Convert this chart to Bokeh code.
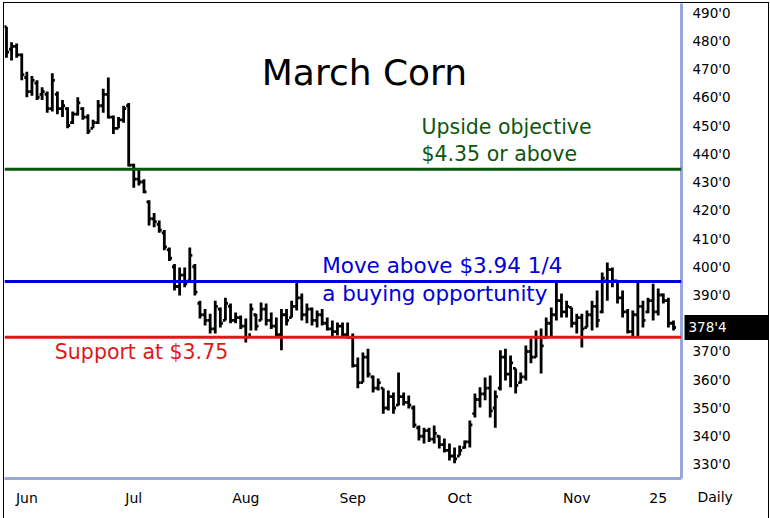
from bokeh.plotting import figure
from bokeh.models import Range1d, FixedTicker, Label, Span, ColumnDataSource
from bokeh.embed import file_html
from bokeh.resources import INLINE

# ---- data (March corn, daily price bars, cents/bushel) ----
highs = [485, 479.5, 479, 475.5, 469, 467.5, 466, 463.5, 462, 468.5,
         462, 459, 456.5, 455, 460, 456.5, 454, 452, 459, 463,
         467, 453.5, 453, 457, 458, 436.5, 434.8, 431, 423.5, 419,
         416.4, 413, 406.8, 401, 399.7, 399.7, 406.8, 401, 388, 385,
         383.4, 388, 385.6, 389, 387, 383.8, 382.7, 381.7, 387, 383.4,
         387.3, 387, 383.8, 382, 385, 385, 388, 394.4, 390.5, 387,
         385.6, 384.5, 385, 382, 381, 380.3, 380.3, 380.3, 376.4, 367.9,
         369.6, 371, 361.5, 360.4, 357, 356.2, 355.5, 362.6, 355.5, 354.4,
         350.9, 343.8, 343, 343, 343.8, 340.3, 339.2, 337.4, 336, 336.7,
         338.5, 345.6, 355.1, 357.3, 360.8, 361.5, 356.2, 370.4, 371, 368.6,
         364, 362.6, 372.1, 374.6, 377.4, 378.1, 382, 385.6, 395, 390.5,
         388, 385.6, 383.4, 383.4, 384.5, 388, 391.6, 398, 401.5, 399.7,
         395, 391.6, 385, 384.5, 394.4, 388, 389, 394, 392.3, 390.5,
         389, 381]
lows = [474, 473, 474, 466, 460, 460.5, 459, 459, 454.5, 455,
        454, 453, 449, 450.5, 453.5, 452, 447, 449, 450.5, 454.5,
        452.5, 447, 449, 451, 435.5, 428, 428.8, 426, 414.6, 414,
        412, 405.8, 402, 391.6, 389.8, 392.7, 394.4, 389.8, 381.7, 379.2,
        376.4, 376.4, 378.5, 381, 380, 380, 378, 373.2, 377.4, 377.4,
        381, 379.2, 378, 375, 370.4, 379.2, 382, 384.5, 381, 380,
        379.2, 378.5, 379.2, 377.4, 375, 375.7, 375, 374.6, 364.3, 357,
        359, 360.8, 355.5, 356.2, 348, 349.1, 348, 350.9, 350.9, 349.8,
        343, 338.5, 337.4, 338, 337.4, 335.7, 334.2, 331.4, 330.4, 333.2,
        335.7, 336, 346.6, 350.2, 352.7, 346.6, 343, 356.2, 359.7, 357.3,
        355.1, 358.7, 359.7, 365.8, 367.9, 362.2, 374.6, 375, 381, 382,
        382, 378.5, 376.4, 371.4, 378.5, 377.4, 378.5, 383.5, 388, 392.7,
        387, 382, 376.4, 375, 375, 378.5, 383.5, 381, 382.7, 387,
        378.5, 377.4]
opens = [485, 477, 478, 475, 467, 462, 465, 461, 461, 456,
         461, 456, 456, 451, 454, 456, 453, 449, 451, 457,
         461, 453, 449, 452, 457, 436, 431, 430, 423, 417,
         415, 412, 406, 400, 393, 397, 395, 400, 387, 383,
         381, 378, 385, 381, 386, 381, 382, 379, 376, 383,
         381, 385, 381, 379, 376, 383, 382, 386, 389, 383,
         385, 381, 383, 380, 378, 377, 379, 376, 375, 365,
         359, 368, 361, 357, 357, 350, 354, 351, 354, 352,
         350, 343, 340, 342, 339, 340, 337, 335, 333, 333,
         336, 338, 348, 353, 355, 357, 350, 357, 368, 362,
         364, 359, 361, 370, 368, 375, 375, 380, 383, 388,
         384, 385.6, 380, 382, 378.5, 383, 386, 384, 395, 399,
         395, 389, 384, 377, 383, 386, 384, 388, 384, 390,
         388, 380]
closes = [476, 478, 475, 468, 462, 466, 460, 462, 456, 466,
          456, 457, 450, 454, 458, 453, 448, 451, 457, 461,
          453, 449, 452, 456, 436, 431, 430, 426.5, 417, 416,
          413, 407, 403, 393, 397, 394, 404, 391, 383, 381,
          378, 386, 380, 387, 381, 382, 379, 375, 385, 379,
          385, 381, 379, 376, 383, 381, 386, 389, 383, 385,
          381, 383, 380, 378, 377, 379, 376, 375, 365, 359,
          368, 362, 357, 359, 350, 354, 350, 354, 352, 351,
          344, 340, 342, 339, 341, 337, 335, 333, 332, 335,
          338, 344, 353, 355, 357, 349, 354, 368, 362, 366,
          358, 361, 370, 368, 375, 372, 380, 383, 388, 384,
          386, 380, 382, 378, 383, 386, 381, 396, 399, 395,
          389, 384, 377, 383, 386, 381, 388, 384, 390, 388,
          380, 378.5]

month_bar_index = [4, 25, 47, 68, 89, 112, 128]
month_labels = ["Jun", "Jul", "Aug", "Sep", "Oct", "Nov", "25"]
price_ticks = [330, 340, 350, 360, 370, 380, 390, 400, 410, 420,
               430, 440, 450, 460, 470, 480, 490]

objective_level = 434.5
breakout_level = 394.75
support_level = 375

FONT = "DejaVu Sans"
AXIS_BLUE = "#97a7d7"
GREEN = "#0d560d"
BLUE = "#0000d8"
RED = "#e01818"

n = len(closes)
idx = list(range(n))
src = ColumnDataSource(dict(
    x=idx,
    xl=[i - 0.5 for i in idx],
    xr=[i + 0.5 for i in idx],
    high=highs, low=lows, open=opens, close=closes,
))

p = figure(frame_width=677, frame_height=475, output_backend="svg",
           toolbar_location=None,
           x_range=Range1d(-0.39, 132.57), y_range=Range1d(325.04, 493.19),
           y_axis_location="right",
           min_border_left=0, min_border_top=0,
           min_border_right=86, min_border_bottom=22)
p.styles = {"border": "1px solid black"}
p.margin = (2, 0, 0, 3)
p.outline_line_color = None
p.grid.visible = False
p.background_fill_color = "white"
p.border_fill_color = "white"

# horizontal levels
p.add_layout(Span(location=objective_level, dimension="width",
                  line_color=GREEN, line_width=3))
p.add_layout(Span(location=breakout_level, dimension="width",
                  line_color=BLUE, line_width=3))
p.add_layout(Span(location=support_level, dimension="width",
                  line_color=RED, line_width=3))

# OHLC bars
for a, b, c, d in (("x", "low", "x", "high"), ("xl", "open", "x", "open"),
                   ("x", "close", "xr", "close")):
    p.segment(x0=a, y0=b, x1=c, y1=d, source=src,
              line_color="black", line_width=2.8)

# axes
ax = p.yaxis[0]
ax.ticker = FixedTicker(ticks=price_ticks)
ax.major_label_overrides = {t: f"{t}'0" for t in price_ticks}
ax.axis_line_color = AXIS_BLUE
ax.axis_line_width = 3
ax.major_tick_line_color = None
ax.minor_tick_line_color = None
ax.major_label_standoff = 5
ax.major_label_text_font = FONT
ax.major_label_text_font_size = "13.5px"
ax.major_label_text_color = "black"

bx = p.xaxis[0]
bx.ticker = FixedTicker(ticks=month_bar_index)
bx.major_label_overrides = {t: l for t, l in zip(month_bar_index, month_labels)}
bx.axis_line_color = AXIS_BLUE
bx.axis_line_width = 3
bx.major_tick_line_color = None
bx.minor_tick_line_color = None
bx.major_label_standoff = 5
bx.major_label_text_font = FONT
bx.major_label_text_font_size = "14px"
bx.major_label_text_color = "black"

# texts
p.add_layout(Label(x=70.3, y=468.8, text="March Corn", text_align="center",
                   text_baseline="middle", text_font=FONT,
                   text_font_size="36px", text_color="black"))
p.add_layout(Label(x=81.5, y=445.4, text="Upside objective", text_font=FONT,
                   text_font_size="20.5px", text_color=GREEN))
p.add_layout(Label(x=81.5, y=435.6, text="$4.35 or above", text_font=FONT,
                   text_font_size="20.5px", text_color=GREEN))
p.add_layout(Label(x=62, y=396.0, text="Move above $3.94 1/4", text_font=FONT,
                   text_font_size="21.5px", text_color=BLUE))
p.add_layout(Label(x=62, y=386.2, text="a buying opportunity", text_font=FONT,
                   text_font_size="21.5px", text_color=BLUE))
p.add_layout(Label(x=9.5, y=365.7, text="Support at $3.75", text_font=FONT,
                   text_font_size="20.5px", text_color=RED))

# last price marker (side panel so it is drawn outside the frame)
last = closes[-1]
last_txt = f"{int(last)}'{int(round((last - int(last)) * 8))}"
p.add_layout(Label(x=684, y=last, x_units="screen", text=last_txt,
                   text_baseline="middle",
                   text_font=FONT, text_font_size="13.5px", text_color="white",
                   background_fill_color="black", border_line_color="black",
                   border_line_width=8, border_line_join="miter",
                   padding=(0, 38, 0, 1)), "below")
p.add_layout(Label(x=135.7, y=318.5, text="Daily", text_baseline="middle",
                   text_font=FONT, text_font_size="14px",
                   text_color="black"), "right")

open("out.html", "w").write(file_html(p, INLINE))
